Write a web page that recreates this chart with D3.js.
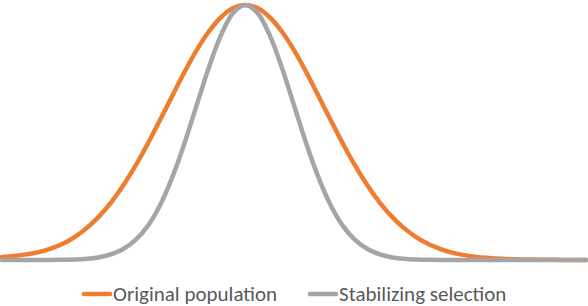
<!DOCTYPE html>
<html>
<head>
<meta charset="utf-8">
<script src="https://cdn.jsdelivr.net/npm/d3@7"></script>
<style>
  html, body { margin: 0; padding: 0; background: #fff; }
  svg { display: block; }
</style>
</head>
<body>
<svg id="chart" width="588" height="306"></svg>
<script>
// ---- data ----
const xValues = [0,0.5,1,1.5,2,2.5,3,3.5,4,4.5,5,5.5,6,6.5,7,7.5,8,8.5,9,9.5,10,10.5,11,11.5,12,12.5,13,13.5,14,14.5,15,15.5,16,16.5,17,17.5,18,18.5,19,19.5,20,20.5,21,21.5,22,22.5,23,23.5,24];
const originalPopulation = [0.012,0.016,0.022,0.031,0.045,0.064,0.091,0.127,0.172,0.228,0.295,0.372,0.458,0.550,0.644,0.737,0.823,0.896,0.952,0.988,1,0.988,0.952,0.896,0.823,0.737,0.644,0.550,0.458,0.372,0.295,0.228,0.172,0.127,0.091,0.064,0.044,0.029,0.019,0.012,0.008,0.005,0.003,0.002,0.001,0.001,0,0,0];
const stabilizingSelection = [0,0,0,0,0,0.001,0.002,0.005,0.011,0.023,0.044,0.080,0.135,0.216,0.325,0.458,0.607,0.755,0.882,0.969,1,0.969,0.882,0.755,0.607,0.458,0.325,0.216,0.135,0.080,0.044,0.023,0.011,0.005,0.002,0.001,0,0,0,0,0,0,0,0,0,0,0,0,0];
const seriesNames = ["Original population", "Stabilizing selection"];
const seriesColors = ["#ED7D31", "#A5A5A5"];

// ---- drawing ----
const svg = d3.select("#chart");
const x = d3.scaleLinear().domain([0, 24]).range([2, 586]);
const y = d3.scaleLinear().domain([0, 1]).range([260, 5]);

const series = [originalPopulation, stabilizingSelection].map((vals, i) => ({
  name: seriesNames[i],
  color: seriesColors[i],
  points: xValues.map((xv, j) => [xv, vals[j]])
}));

const line = d3.line()
  .x(d => x(d[0]))
  .y(d => y(d[1]))
  .curve(d3.curveCatmullRom.alpha(0.5));

svg.append("g").selectAll("path")
  .data(series)
  .join("path")
  .attr("d", d => line(d.points))
  .attr("fill", "none")
  .attr("stroke", d => d.color)
  .attr("stroke-width", 4.5)
  .attr("stroke-linecap", "round")
  .attr("stroke-linejoin", "round");

// ---- legend ----
const legendX = [82, 308];
const leg = svg.append("g").selectAll("g")
  .data(series)
  .join("g")
  .attr("transform", (d, i) => `translate(${legendX[i]},0)`);

leg.append("line")
  .attr("x1", 2).attr("x2", 28)
  .attr("y1", 294).attr("y2", 294)
  .attr("stroke", d => d.color)
  .attr("stroke-width", 4.5)
  .attr("stroke-linecap", "round");

leg.append("text")
  .attr("x", 31)
  .attr("y", 300.5)
  .attr("fill", "#595959")
  .style("font-family", "Calibri, Carlito, 'Liberation Sans', Arial, sans-serif")
  .style("font-size", "21px")
  .text(d => d.name);
</script>
</body>
</html>
